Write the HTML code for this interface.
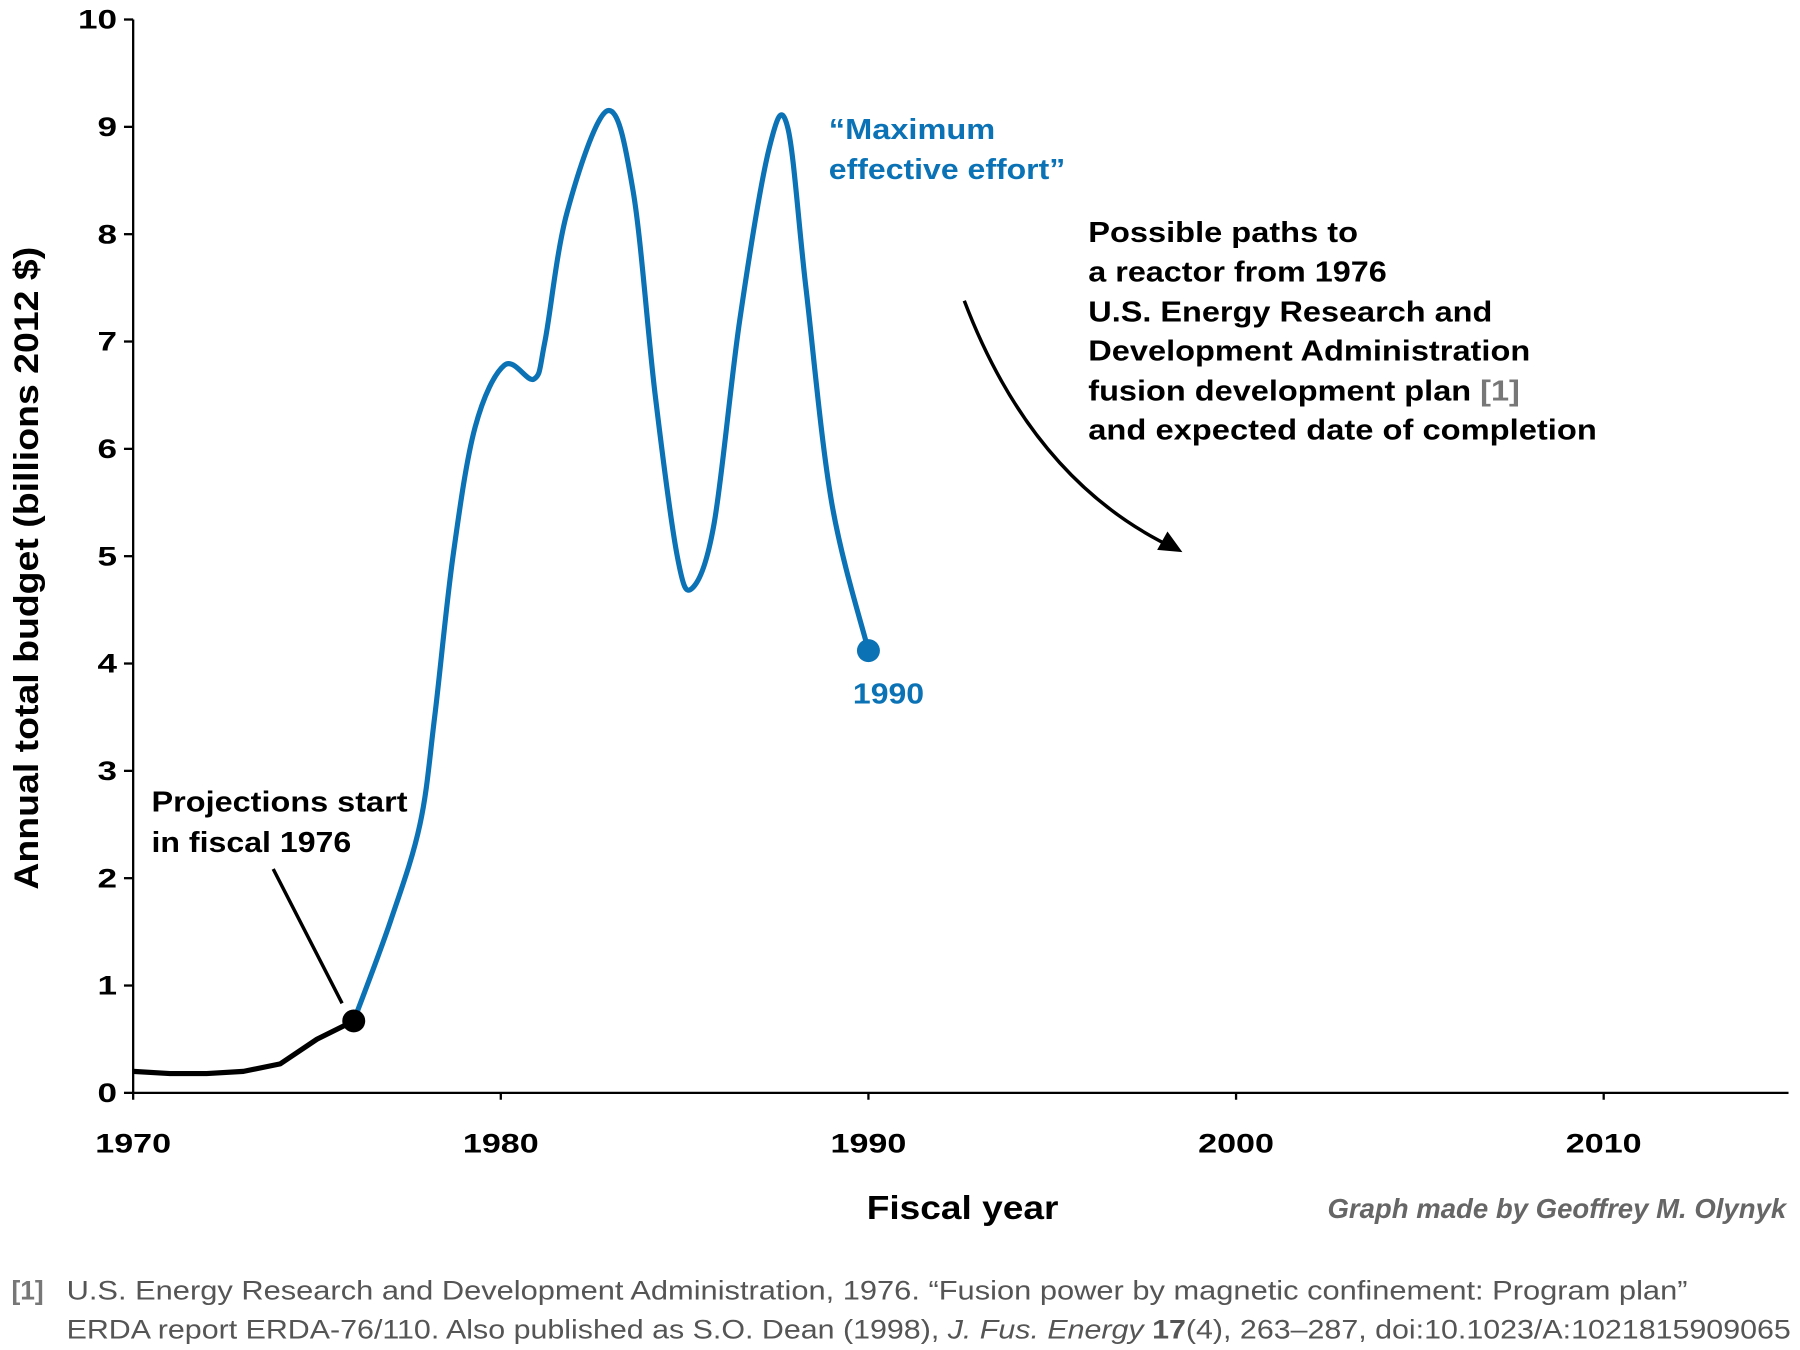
<!DOCTYPE html>
<html><head><meta charset="utf-8"><style>
html,body{margin:0;padding:0;background:#fff;width:1800px;height:1350px;overflow:hidden}
svg{display:block}
text{font-family:"Liberation Sans",Arial,sans-serif}
</style></head><body>
<svg id="chart" width="1800" height="1350" viewBox="0 0 1568 1176" xmlns="http://www.w3.org/2000/svg">
<g id="axes"></g>
<g id="series"></g>
<text transform="translate(33,495) rotate(-90)" text-anchor="middle" font-size="30" font-weight="bold" textLength="560" lengthAdjust="spacingAndGlyphs">Annual total budget (billions 2012 $)</text>
<text x="755" y="1062" font-size="29" font-weight="bold" textLength="167" lengthAdjust="spacingAndGlyphs">Fiscal year</text>
<text x="1556" y="1061" text-anchor="end" font-size="24" font-weight="bold" font-style="italic" fill="#666">Graph made by Geoffrey M. Olynyk</text>
<g font-size="25" font-weight="bold">
<text x="132" y="707" textLength="223" lengthAdjust="spacingAndGlyphs">Projections start</text>
<text x="132" y="742" textLength="174" lengthAdjust="spacingAndGlyphs">in fiscal 1976</text>
<line x1="238" y1="757" x2="298" y2="874" stroke="#000" stroke-width="3"/>
</g>
<g font-size="25" font-weight="bold" fill="#0b72b5">
<text x="722" y="121" textLength="145" lengthAdjust="spacingAndGlyphs">“Maximum</text>
<text x="722" y="156" textLength="206" lengthAdjust="spacingAndGlyphs">effective effort”</text>
<text x="743" y="613" textLength="62" lengthAdjust="spacingAndGlyphs">1990</text>
</g>
<g font-size="25" font-weight="bold">
<text x="948" y="211" textLength="235" lengthAdjust="spacingAndGlyphs">Possible paths to</text>
<text x="948" y="245" textLength="260" lengthAdjust="spacingAndGlyphs">a reactor from 1976</text>
<text x="948" y="280" textLength="352" lengthAdjust="spacingAndGlyphs">U.S. Energy Research and</text>
<text x="948" y="314" textLength="385" lengthAdjust="spacingAndGlyphs">Development Administration</text>
<text x="948" y="349" textLength="376" lengthAdjust="spacingAndGlyphs">fusion development plan <tspan fill="#777">[1]</tspan></text>
<text x="948" y="383" textLength="443" lengthAdjust="spacingAndGlyphs">and expected date of completion</text>
<path d="M840,262 Q900,420 1024,478" fill="none" stroke="#000" stroke-width="3"/>
<path d="M1030,481 L1008,479 L1017,463 Z" fill="#000"/>
</g>
<g font-size="23" fill="#555">
<text x="10" y="1132" font-weight="bold" fill="#777">[1]</text>
<text x="58" y="1132" textLength="1412" lengthAdjust="spacingAndGlyphs">U.S. Energy Research and Development Administration, 1976. “Fusion power by magnetic confinement: Program plan”</text>
<text x="58" y="1166" textLength="1502" lengthAdjust="spacingAndGlyphs">ERDA report ERDA-76/110. Also published as S.O. Dean (1998), <tspan font-style="italic">J. Fus. Energy</tspan> <tspan font-weight="bold">17</tspan>(4), 263–287, doi:10.1023/A:1021815909065</text>
</g>
</svg>
<script>
const xTicks=[1970,1980,1990,2000,2010];
const yTicks=[0,1,2,3,4,5,6,7,8,9,10];
const histYears=[1970,1971,1972,1973,1974,1975,1976];
const histValues=[0.2,0.18,0.18,0.2,0.27,0.5,0.67];
const projYears=[1976,1977,1977.8,1978.2,1978.7,1979.3,1980.1,1980.9,1981.2,1981.8,1982.9,1983.6,1984.2,1984.8,1985.2,1985.8,1986.5,1987.3,1987.8,1988.3,1989,1990];
const projValues=[0.67,1.6,2.5,3.5,5.0,6.2,6.78,6.65,7.0,8.2,9.15,8.4,6.5,5.0,4.7,5.3,7.2,8.8,9.0,7.5,5.5,4.12];
const NS="http://www.w3.org/2000/svg";
const X0=116,X1=1558,Y0=952,Y10=17;
const xs=y=>X0+(y-1970)*(1397-116)/40;
const ys=v=>Y0-v*(Y0-Y10)/10;
function mk(t,a,p){const e=document.createElementNS(NS,t);for(const k in a)e.setAttribute(k,a[k]);p.appendChild(e);return e;}
const ax=document.getElementById('axes');
const yl=mk('line',{x1:X0,y1:Y10,x2:X0,y2:Y0,stroke:'#000','stroke-width':2},ax);


const xl=mk('line',{x1:X0,y1:Y0,x2:X1,y2:Y0,stroke:'#000','stroke-width':2},ax);


yTicks.forEach(v=>{const y=ys(v);
 mk('line',{x1:X0-8,y1:y,x2:X0,y2:y,stroke:'#000','stroke-width':2},ax);
 const s=String(v);
 const t=mk('text',{x:X0-14-s.length*17,y:y+8,'font-size':23,'font-weight':'bold',textLength:s.length*17,lengthAdjust:'spacingAndGlyphs'},ax);t.textContent=s;
 
 });
xTicks.forEach(v=>{const x=xs(v);
 mk('line',{x1:x,y1:Y0,x2:x,y2:Y0+6,stroke:'#000','stroke-width':2},ax);
 const t=mk('text',{x:x-33,y:1004,'font-size':23,'font-weight':'bold',textLength:66,lengthAdjust:'spacingAndGlyphs'},ax);t.textContent=v;
 
 });
const sg=document.getElementById('series');
function smooth(pts){let d=`M${pts[0][0]},${pts[0][1]}`;
 for(let i=0;i<pts.length-1;i++){const p0=pts[i-1]||pts[i],p1=pts[i],p2=pts[i+1],p3=pts[i+2]||p2;
  d+=` C${p1[0]+(p2[0]-p0[0])/6},${p1[1]+(p2[1]-p0[1])/6} ${p2[0]-(p3[0]-p1[0])/6},${p2[1]-(p3[1]-p1[1])/6} ${p2[0]},${p2[1]}`;}
 return d;}
const hp=histYears.map((y,i)=>[xs(y),ys(histValues[i])]);
const h=mk('path',{d:'M'+hp.map(p=>p.join(',')).join(' L'),fill:'none',stroke:'#000','stroke-width':4.5,'stroke-linejoin':'round'},sg);


const pp=projYears.map((y,i)=>[xs(y),ys(projValues[i])]);
const pl=mk('path',{d:smooth(pp),fill:'none',stroke:'#0b72b5','stroke-width':4.5,'stroke-linejoin':'round'},sg);


const d1=mk('circle',{cx:hp[hp.length-1][0],cy:hp[hp.length-1][1],r:10,fill:'#000'},sg);


const d2=mk('circle',{cx:pp[pp.length-1][0],cy:pp[pp.length-1][1],r:10,fill:'#0b72b5'},sg);


</script>
</body></html>
